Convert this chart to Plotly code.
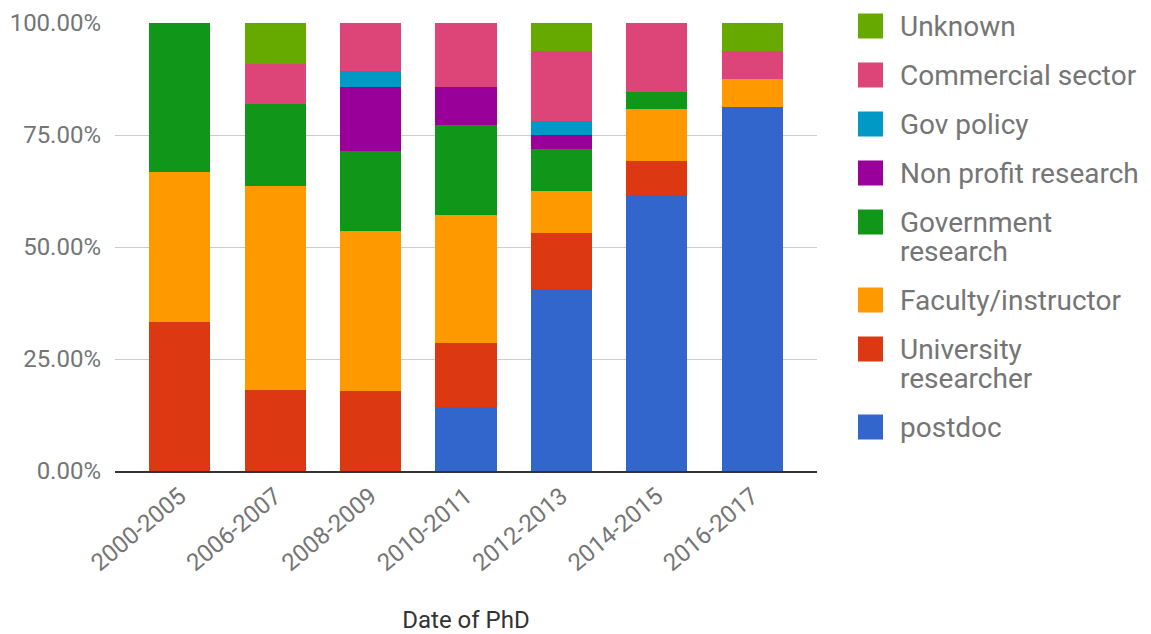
import plotly.graph_objects as go

# Career outcome shares (%) by PhD completion period
periods = ["2000-2005", "2006-2007", "2008-2009", "2010-2011",
           "2012-2013", "2014-2015", "2016-2017"]

postdoc = [0, 0, 0, 14.29, 40.63, 61.54, 81.25]
university_researcher = [33.33, 18.18, 17.86, 14.29, 12.50, 7.69, 0]
faculty_instructor = [33.33, 45.45, 35.71, 28.57, 9.38, 11.54, 6.25]
government_research = [33.34, 18.18, 17.86, 20.00, 9.38, 3.85, 0]
non_profit_research = [0, 0, 14.29, 8.57, 3.13, 0, 0]
gov_policy = [0, 0, 3.57, 0, 3.13, 0, 0]
commercial_sector = [0, 9.10, 10.71, 14.28, 15.63, 15.38, 6.25]
unknown = [0, 9.09, 0, 0, 6.24, 0, 6.25]

y_ticks = [0, 25, 50, 75, 100]

series = [
    ("postdoc", postdoc, "#3366cc"),
    ("University\nresearcher", university_researcher, "#dc3912"),
    ("Faculty/instructor", faculty_instructor, "#ff9900"),
    ("Government\nresearch", government_research, "#109618"),
    ("Non profit research", non_profit_research, "#990099"),
    ("Gov policy", gov_policy, "#0099c6"),
    ("Commercial sector", commercial_sector, "#dd4477"),
    ("Unknown", unknown, "#66aa00"),
]

W, H = 1151, 634
L, R, T, B = 115, 817, 23, 471
FONT = "Roboto, Arial, sans-serif"
GREY = "#757575"

fig = go.Figure()
for name, vals, color in series:
    fig.add_trace(go.Bar(
        x=periods, y=vals, name=name.replace("\n", " "),
        marker=dict(color=color, line=dict(width=0)),
        showlegend=False,
    ))

# Legend: swatches and labels laid out down the right side, top entry first
def px_x(px):
    return (px - L) / (R - L)

def px_y(py):
    return (B - py) / (B - T)

legend_rows = [26, 75, 124, 173, 222, 300, 349, 427]
line_step = 29
shapes, annotations = [], []
for (name, _, color), cy in zip(reversed(series), legend_rows):
    shapes.append(dict(
        type="rect", xref="paper", yref="paper",
        x0=px_x(858), x1=px_x(883), y0=px_y(cy + 12.5), y1=px_y(cy - 12.5),
        fillcolor=color, line=dict(width=0), layer="above",
    ))
    for i, line in enumerate(name.split("\n")):
        annotations.append(dict(
            xref="paper", yref="paper", x=px_x(898), y=px_y(cy + i * line_step),
            xanchor="left", yanchor="middle", text=line, showarrow=False,
            font=dict(family=FONT, size=28, color=GREY),
        ))

fig.update_layout(
    width=W, height=H,
    barmode="stack", bargap=0.36,
    margin=dict(l=L, r=W - R, t=T, b=H - B, pad=0, autoexpand=False),
    plot_bgcolor="white", paper_bgcolor="white",
    font=dict(family=FONT, color=GREY, size=24),
    xaxis=dict(
        range=[-0.68, 6.68], tickangle=-40, showgrid=False, automargin=False,
        showline=True, linecolor="#333333", linewidth=1.5,
        ticks="", tickfont=dict(size=24, color=GREY),
        title=dict(text="Date of PhD", standoff=42,
                   font=dict(size=24, color="#333333")),
    ),
    yaxis=dict(
        range=[0, 100], tickvals=y_ticks, automargin=False,
        ticktext=[f"{v:.2f}%" for v in y_ticks],
        showgrid=True, gridcolor="#cccccc", gridwidth=1,
        zeroline=False, showline=False, ticks="",
        tickfont=dict(size=24, color=GREY), ticklabelstandoff=13,
    ),
    shapes=shapes, annotations=annotations,
)

fig.write_html("out.html")
